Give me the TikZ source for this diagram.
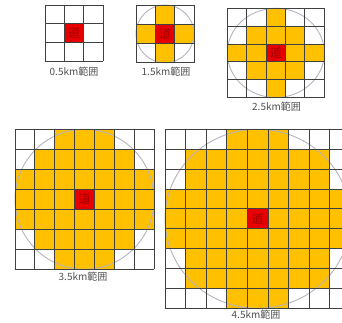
\documentclass[tikz,border=0pt]{standalone}
\usepackage{fontspec}
\newfontfamily\cjk{Noto Sans CJK JP}
\definecolor{orangefill}{HTML}{FFC000}
\definecolor{redfill}{HTML}{E80000}
\definecolor{charred}{HTML}{A00000}
\definecolor{gridcol}{HTML}{404040}
\definecolor{circcol}{HTML}{B4B4C0}
\definecolor{labelcol}{HTML}{505050}
\tikzset{
  cellfill/.style={fill=orangefill},
  centerfill/.style={fill=redfill},
  gridline/.style={draw=gridcol, line width=0.9pt},
  circline/.style={draw=circcol, line width=0.9pt},
  rangelabel/.style={font=\cjk\fontsize{10}{12}\selectfont, text=labelcol, inner sep=0pt},
  centerchar/.style={font=\cjk\fontsize{12}{14}\selectfont, text=charred, inner sep=0pt}
}
% #1 x0, #2 y0, #3 x1, #4 y1, #5 n, #6 half-width list, #7 circle flag, #8 name
\newcommand\gridblock[8]{%
  \pgfmathsetmacro\gbcw{(#3-#1)/#5}%
  \pgfmathsetmacro\gbch{(#4-#2)/#5}%
  \pgfmathtruncatemacro\gbcc{(#5-1)/2}%
  \foreach \hw [count=\rr from 0] in {#6} {%
    \ifnum\hw>-1
      \fill[cellfill] ({#1+(\gbcc-\hw)*\gbcw},{#2+\rr*\gbch}) rectangle ({#1+(\gbcc+\hw+1)*\gbcw},{#2+(\rr+1)*\gbch});
    \fi
  }%
  \fill[centerfill] ({#1+\gbcc*\gbcw},{#2+\gbcc*\gbch}) rectangle ({#1+(\gbcc+1)*\gbcw},{#2+(\gbcc+1)*\gbch});
  \ifnum#7=1
    \draw[circline] ({(#1+#3)/2},{(#2+#4)/2}) ellipse [x radius={(#3-#1)/2*1pt}, y radius={(#4-#2)/2*1pt}];
  \fi
  \foreach \ii in {0,...,#5} {%
    \draw[gridline] ({#1+\ii*\gbcw},#2) -- ({#1+\ii*\gbcw},#4);
    \draw[gridline] (#1,{#2+\ii*\gbch}) -- (#3,{#2+\ii*\gbch});
  }%
  \node[centerchar] (#8) at ({#1+(\gbcc+0.5)*\gbcw},{#2+(\gbcc+0.5)*\gbch}) {道};
}
\begin{document}
\begin{tikzpicture}[x=1pt,y=-1pt]
\useasboundingbox (0,0) rectangle (342,322);
\clip (0,0) rectangle (342,322);
\gridblock{45}{5}{103.3}{61}{3}{-1,-1,-1}{0}{c1}
\gridblock{136}{5}{194}{62.7}{3}{0,1,0}{1}{c2}
\gridblock{227.3}{8.3}{324.3}{97.5}{5}{0,1,2,1,0}{1}{c3}
\gridblock{15}{129.3}{154}{269.3}{7}{1,2,3,3,3,2,1}{1}{c4}
\gridblock{165}{129.3}{350.4}{308.3}{9}{1,3,3,4,4,4,3,3,1}{1}{c5}
\node[rangelabel] (l1) at (74,71.5) {0.5km範囲};
\node[rangelabel] (l2) at (166,72) {1.5km範囲};
\node[rangelabel] (l3) at (276.5,107) {2.5km範囲};
\node[rangelabel] (l4) at (83,277) {3.5km範囲};
\node[rangelabel] (l5) at (256,315) {4.5km範囲};
\end{tikzpicture}
\end{document}
